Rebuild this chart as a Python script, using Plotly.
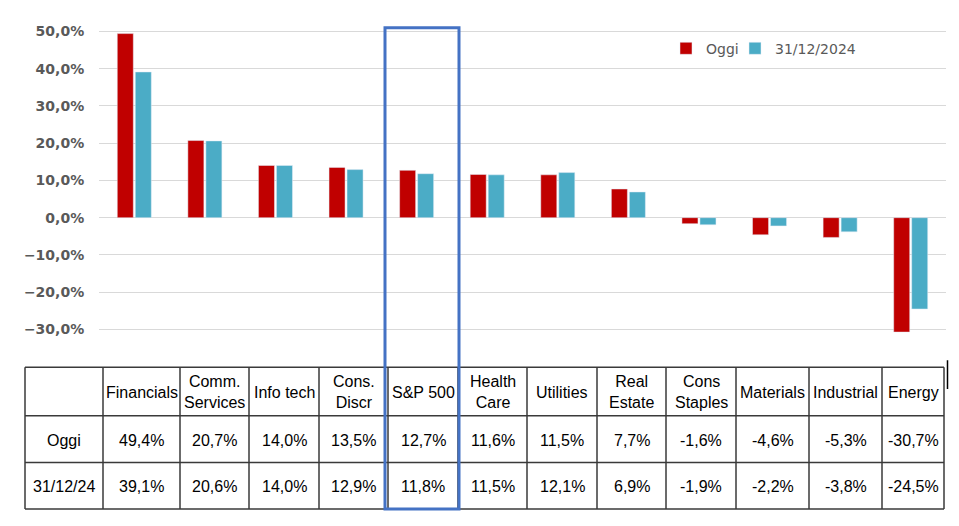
import plotly.graph_objects as go

# --- DATI ---
settori = ["Financials", "Comm.<br>Services", "Info tech", "Cons.<br>Discr", "S&P 500",
           "Health<br>Care", "Utilities", "Real<br>Estate", "Cons<br>Staples",
           "Materials", "Industrial", "Energy"]
oggi = [49.4, 20.7, 14.0, 13.5, 12.7, 11.6, 11.5, 7.7, -1.6, -4.6, -5.3, -30.7]
fine_2024 = [39.1, 20.6, 14.0, 12.9, 11.8, 11.5, 12.1, 6.9, -1.9, -2.2, -3.8, -24.5]
serie_legenda = ["Oggi", "31/12/2024"]
righe_tabella = ["Oggi", "31/12/24"]
y_ticks = [-0.3, -0.2, -0.1, 0, 0.1, 0.2, 0.3, 0.4, 0.5]

# --- CONFIGURAZIONE ---
# la pagina ha un margine di 8px: la figura è più piccola e le coordinate sono spostate
OFF = 8
W, H = 959 - 2 * OFF, 526 - 2 * OFF
ROSSO = "#C00000"
AZZURRO = "#4BACC6"
GRIGIO = "#595959"
LINEA = "#3a3a3a"

# bordi della tabella in pixel (coordinate della finestra)
COL_EDGES = [25, 103, 180, 249, 319, 388, 458, 527, 597, 666, 736, 809, 882, 944]
ROW_EDGES = [366, 415, 462, 509]


def px_x(p):
    return (p - OFF) / W


def px_y(p):
    return 1 - (p - OFF) / H


def fmt(v):
    return f"{v:.1f}%".replace(".", ",")


fig = go.Figure()
fig.add_trace(go.Bar(x=settori, y=[v / 100 for v in oggi], name=serie_legenda[0],
                     marker_color=ROSSO, legendwidth=24))
fig.add_trace(go.Bar(x=settori, y=[v / 100 for v in fine_2024], name=serie_legenda[1],
                     marker_color=AZZURRO, legendwidth=90))

# tabella disegnata con linee e testi
shapes = []
for yy in ROW_EDGES:
    shapes.append(dict(type="line", xref="paper", yref="paper",
                       x0=px_x(COL_EDGES[0]), x1=px_x(COL_EDGES[-1]),
                       y0=px_y(yy), y1=px_y(yy), line=dict(color=LINEA, width=1.5)))
for xx in COL_EDGES:
    shapes.append(dict(type="line", xref="paper", yref="paper",
                       x0=px_x(xx), x1=px_x(xx),
                       y0=px_y(ROW_EDGES[0]), y1=px_y(ROW_EDGES[-1]),
                       line=dict(color=LINEA, width=1.5)))
# riquadro S&P 500
shapes.append(dict(type="rect", xref="paper", yref="paper",
                   x0=px_x(385), x1=px_x(459), y0=px_y(509), y1=px_y(24),
                   line=dict(color="#4472C4", width=3)))
# trattino isolato a destra
shapes.append(dict(type="line", xref="paper", yref="paper",
                   x0=px_x(947.5), x1=px_x(947.5), y0=px_y(359), y1=px_y(388),
                   line=dict(color="black", width=1.5)))

annotations = []
tab_font = dict(family="Liberation Sans, Arial", size=16, color="black")
centri = [(COL_EDGES[i] + COL_EDGES[i + 1]) / 2 for i in range(len(COL_EDGES) - 1)]
riga_y = [(ROW_EDGES[i] + ROW_EDGES[i + 1]) / 2 + 1 for i in range(len(ROW_EDGES) - 1)]
for i, s in enumerate(settori):
    annotations.append(dict(x=px_x(centri[i + 1]), y=px_y(riga_y[0]), xref="paper", yref="paper",
                            text=s, showarrow=False, font=tab_font, xanchor="center",
                            yanchor="middle"))
for r, (nome, valori) in enumerate(zip(righe_tabella, [oggi, fine_2024])):
    annotations.append(dict(x=px_x(centri[0]), y=px_y(riga_y[r + 1]), xref="paper", yref="paper",
                            text=nome, showarrow=False, font=tab_font, xanchor="center",
                            yanchor="middle"))
    for i, v in enumerate(valori):
        annotations.append(dict(x=px_x(centri[i + 1]), y=px_y(riga_y[r + 1]), xref="paper",
                                yref="paper", text=fmt(v), showarrow=False, font=tab_font,
                                xanchor="center", yanchor="middle"))

fig.update_layout(
    width=W, height=H,
    margin=dict(l=0, r=0, t=0, b=0),
    paper_bgcolor="white", plot_bgcolor="white",
    separators=",.",
    barmode="group", bargap=0.49, bargroupgap=0.11,
    showlegend=True,
    legend=dict(orientation="h", x=px_x(666), y=px_y(45), xanchor="left", yanchor="middle",
                font=dict(family="DejaVu Sans", size=14, color=GRIGIO),
                bgcolor="rgba(0,0,0,0)", itemwidth=30),
    shapes=shapes,
    annotations=annotations,
)
fig.update_xaxes(domain=[px_x(99), px_x(946)], showticklabels=False, showgrid=False,
                 zeroline=False, showline=False, fixedrange=True)
fig.update_yaxes(domain=[px_y(335.5), px_y(23.75)], range=[-0.32, 0.51],
                 tickvals=y_ticks, tickformat=".1%",
                 tickfont=dict(family="DejaVu Sans", size=14, color=GRIGIO, weight="bold"),
                 ticks="outside", ticklen=11, tickcolor="rgba(0,0,0,0)",
                 showgrid=True, gridcolor="#D9D9D9", gridwidth=1.3,
                 zeroline=True, zerolinecolor="#D9D9D9", zerolinewidth=1.3,
                 showline=False)

fig.write_html("out.html")
